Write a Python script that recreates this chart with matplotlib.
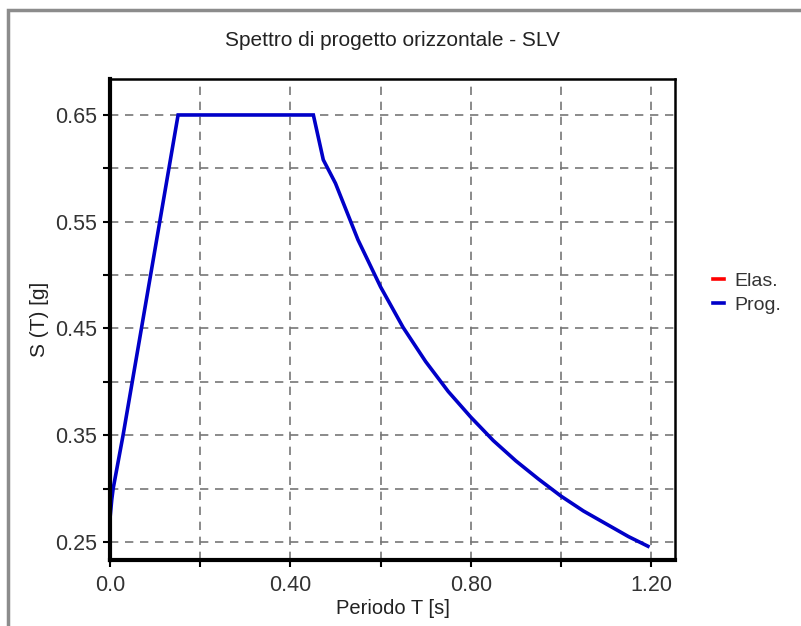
import matplotlib.pyplot as plt
from matplotlib.lines import Line2D
from matplotlib.patches import Rectangle

# design spectrum points
periodo = [0.0, 0.004, 0.007, 0.029, 0.09, 0.151,
           0.451, 0.473, 0.50, 0.55, 0.60, 0.65, 0.70, 0.75, 0.80, 0.85,
           0.90, 0.95, 1.00, 1.05, 1.10, 1.15, 1.193]
s_prog = [0.272, 0.290, 0.300, 0.350, 0.500, 0.650,
          0.650, 0.608, 0.586, 0.533, 0.489, 0.451, 0.419, 0.391, 0.367, 0.345,
          0.326, 0.309, 0.293, 0.279, 0.267, 0.255, 0.246]
# elastic spectrum is listed in the legend but not visible in the chart
s_elas = []

x_ticks = [0.0, 0.2, 0.4, 0.6, 0.8, 1.0, 1.2]
x_labels = ['0.0', '', '0.40', '', '0.80', '', '1.20']
y_ticks = [0.25, 0.30, 0.35, 0.40, 0.45, 0.50, 0.55, 0.60, 0.65]
y_labels = ['0.25', '', '0.35', '', '0.45', '', '0.55', '', '0.65']

plt.rcParams['font.family'] = ['Liberation Sans', 'DejaVu Sans']

fig = plt.figure(figsize=(8.01, 6.26), dpi=100)
fig.patch.set_facecolor('white')

# window frame around the chart
fig.patches.append(Rectangle((8 / 801, -0.05), 1.2, 1.05 - 10 / 626, transform=fig.transFigure,
                             fill=False, edgecolor='#8c8c8c', linewidth=2.5))

ax = fig.add_axes([110 / 801, 1 - 560 / 626, 565 / 801, 481 / 626])
ax.plot(periodo, s_prog, color='#0000c8', linewidth=2.6, solid_joinstyle='miter')
ax.plot(periodo[:len(s_elas)], s_elas, color='#ff0000', linewidth=2.6)

ax.set_xlim(0, 1.253)
ax.set_ylim(0.2331, 0.6837)
ax.set_xticks(x_ticks)
ax.set_xticklabels(x_labels)
ax.set_yticks(y_ticks)
ax.set_yticklabels(y_labels)
ax.tick_params(direction='out', length=5, width=1.5, labelsize=15.5, colors='black',
               labelcolor='#333333', pad=4)
ax.tick_params(axis='x', pad=6)
ax.grid(True, linestyle=(0, (5, 4)), color='#777777', linewidth=1.2)

for side in ['left', 'bottom']:
    ax.spines[side].set_linewidth(3)
for side in ['top', 'right']:
    ax.spines[side].set_linewidth(1.8)

ax.set_title('Spettro di progetto orizzontale - SLV', fontsize=15, color='#222222', pad=24)
ax.set_xlabel('Periodo T [s]', fontsize=14.5, color='#222222', labelpad=2)
ax.set_ylabel('S (T) [g]', fontsize=15, color='#222222', labelpad=5)

handles = [Line2D([], [], color='#ff0000', linewidth=2.6),
           Line2D([], [], color='#0000c8', linewidth=2.6)]
fig.legend(handles, ['Elas.', 'Prog.'], loc='center left', bbox_to_anchor=(695 / 801, 1 - 293 / 626),
           frameon=False, fontsize=14, handlelength=0.6, handletextpad=0.5, labelspacing=0.3,
           labelcolor='#333333')

fig.savefig('out.png', dpi=100, facecolor='white')
